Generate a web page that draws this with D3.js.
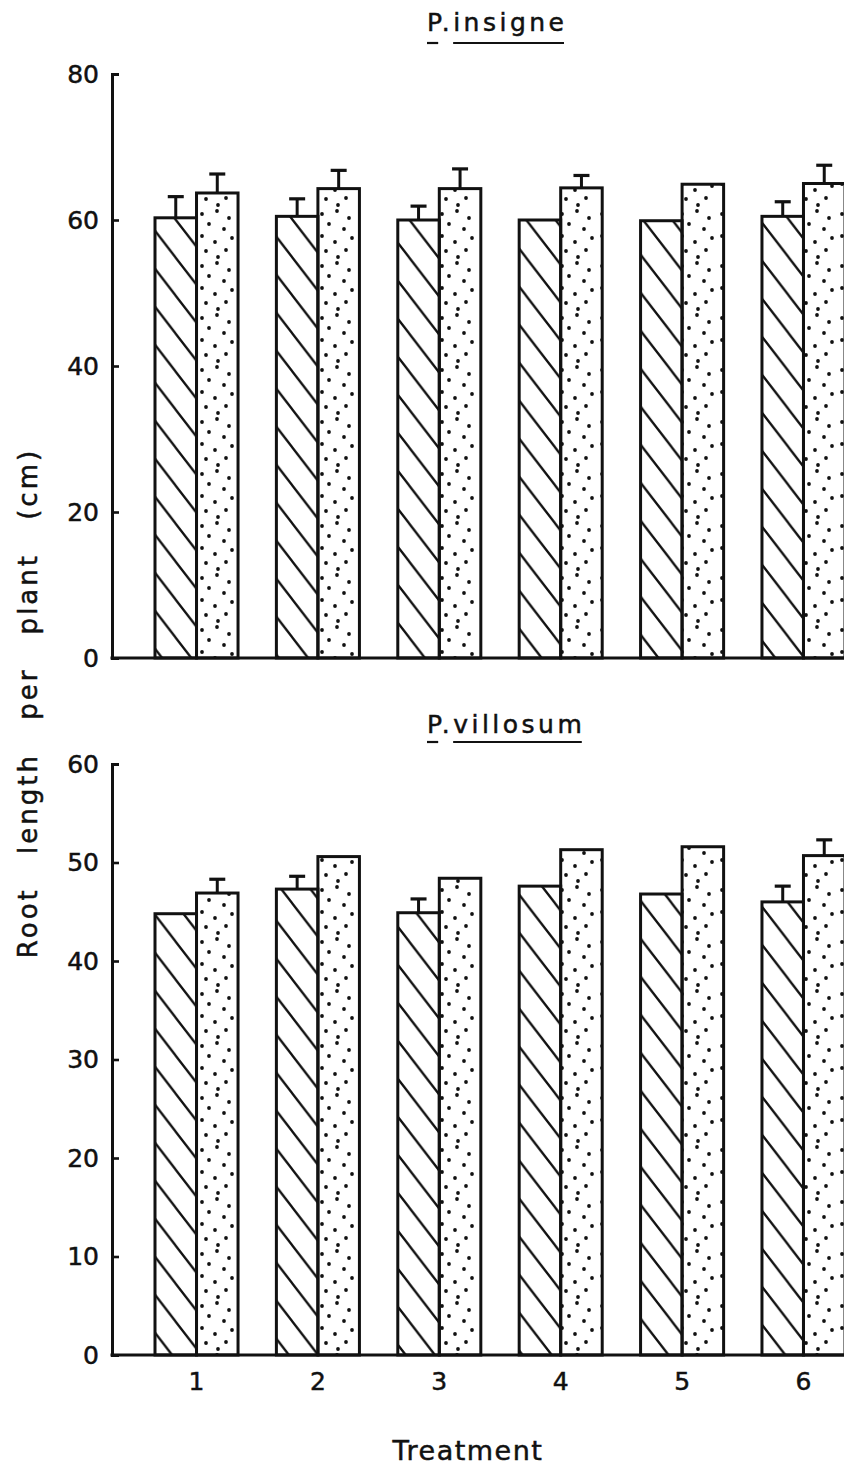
<!DOCTYPE html>
<html>
<head>
<meta charset="utf-8">
<script src="https://cdn.jsdelivr.net/npm/d3@7"></script>
<style>
  body { margin: 0; background: #fff; }
  text { font-family: "DejaVu Sans", sans-serif; fill: #111; stroke: #111; stroke-width: 0.5; }
</style>
</head>
<body>
<svg id="chart" width="844" height="1470"></svg>
<script>
//DATA////////////////////////////////////
var treatments = ["1", "2", "3", "4", "5", "6"];
var series = ["hatched", "dotted"];
// P. insigne
var insigneHatched = [60.3, 60.5, 60.0, 60.0, 59.9, 60.5];
var insigneHatchedErr = [2.9, 2.4, 1.9, 0, 0, 2.0];
var insigneDotted = [63.7, 64.3, 64.3, 64.4, 64.9, 65.0];
var insigneDottedErr = [2.6, 2.5, 2.7, 1.7, 0, 2.5];
var insigneTicks = [0, 20, 40, 60, 80];
// P. villosum
var villosumHatched = [44.8, 47.3, 44.9, 47.6, 46.8, 46.0];
var villosumHatchedErr = [0, 1.3, 1.4, 0, 0, 1.6];
var villosumDotted = [46.9, 50.6, 48.4, 51.3, 51.6, 50.7];
var villosumDottedErr = [1.4, 0, 0, 0, 0, 1.6];
var villosumTicks = [0, 10, 20, 30, 40, 50, 60];

var width = 844,
  axisX = 112,
  ink = "#111";

var svg = d3.select("#chart");
var defs = svg.append("defs");

//PATTERNS///////////////////////////////
var hw = 29.2, hh = 38;
defs
  .append("pattern")
  .attr("id", "hatch")
  .attr("patternUnits", "userSpaceOnUse")
  .attr("width", hw)
  .attr("height", hh)
  .attr("y", -9)
  .append("path")
  .attr("d", "M" + -hw + "," + -hh + "L" + 2 * hw + "," + 2 * hh +
    "M" + -hw + ",0L" + hw + "," + 2 * hh +
    "M0," + -hh + "L" + 2 * hw + "," + hh)
  .attr("stroke", ink)
  .attr("stroke-width", 2.3)
  .attr("fill", "none");

var dotPat = defs
  .append("pattern")
  .attr("id", "dots")
  .attr("patternUnits", "userSpaceOnUse")
  .attr("width", 40)
  .attr("height", 52)
  .attr("x", 197);
var dotXY = [[5, 6], [20, 3], [32, 10], [12, 16], [27, 21], [5, 28], [35, 30],
  [18, 34], [9, 43], [29, 42], [21, 49]];
dotPat.selectAll("circle").data(dotXY).join("circle")
  .attr("cx", d => d[0]).attr("cy", d => d[1]).attr("r", 1.9).attr("fill", ink);

//SCALES//////////////////////////////////
var x0 = d3.scaleBand().domain(treatments).range([155, 845]).paddingInner(0.316).paddingOuter(0);
var x1 = d3.scaleBand().domain(series).range([0, x0.bandwidth()]);

function panel(opt) {
  var y = d3.scaleLinear().domain(opt.domain).range(opt.range);
  var g = svg.append("g");

  var rows = [];
  treatments.forEach(function (t, i) {
    rows.push({ t: t, s: "hatched", v: opt.hatched[i], e: opt.hatchedErr[i] });
    rows.push({ t: t, s: "dotted", v: opt.dotted[i], e: opt.dottedErr[i] });
  });

  // error bars (upper only)
  var eb = g.selectAll(".err").data(rows.filter(d => d.e > 0)).join("g");
  eb.append("line")
    .attr("x1", d => x0(d.t) + x1(d.s) + x1.bandwidth() / 2)
    .attr("x2", d => x0(d.t) + x1(d.s) + x1.bandwidth() / 2)
    .attr("y1", d => y(d.v))
    .attr("y2", d => y(d.v + d.e))
    .attr("stroke", ink).attr("stroke-width", 3);
  eb.append("line")
    .attr("x1", d => x0(d.t) + x1(d.s) + x1.bandwidth() / 2 - 8)
    .attr("x2", d => x0(d.t) + x1(d.s) + x1.bandwidth() / 2 + 8)
    .attr("y1", d => y(d.v + d.e))
    .attr("y2", d => y(d.v + d.e))
    .attr("stroke", ink).attr("stroke-width", 3.2);

  // bars
  g.selectAll(".bar").data(rows).join("rect")
    .attr("x", d => x0(d.t) + x1(d.s))
    .attr("y", d => y(d.v))
    .attr("width", x1.bandwidth())
    .attr("height", d => y(0) - y(d.v))
    .attr("fill", d => d.s === "hatched" ? "url(#hatch)" : "url(#dots)")
    .attr("stroke", ink)
    .attr("stroke-width", 3);

  // y axis
  var ax = g.append("g")
    .attr("transform", "translate(" + axisX + ",0)")
    .call(d3.axisLeft(y).tickValues(opt.ticks).tickSize(-7).tickSizeOuter(-7).tickPadding(13));
  ax.select(".domain").attr("stroke", ink).attr("stroke-width", 3);
  ax.selectAll(".tick line").attr("stroke", ink).attr("stroke-width", 2.6);
  ax.selectAll(".tick text").attr("font-size", 25).attr("fill", ink)
    .style("font-family", "DejaVu Sans");

  // baseline
  g.append("line")
    .attr("x1", axisX - 1.5).attr("x2", width)
    .attr("y1", y(0)).attr("y2", y(0))
    .attr("stroke", ink).attr("stroke-width", 3);

  // title, with separate underlines under "P" and the species word
  var title = g.append("text")
    .attr("x", 427).attr("y", opt.titleY)
    .attr("font-size", 25)
    .attr("letter-spacing", 3.5);
  title.append("tspan").text("P");
  title.append("tspan").text(".");
  title.append("tspan").text(opt.name);
  var node = title.node();
  var n = opt.name.length;
  var pW = node.getSubStringLength(0, 1);
  var startW = node.getSubStringLength(0, 2);
  var nameW = node.getSubStringLength(2, n);
  [[0, pW - 3.5], [startW, startW + nameW - 3.5]].forEach(function (s) {
    g.append("line")
      .attr("x1", 427 + s[0]).attr("x2", 427 + s[1])
      .attr("y1", opt.titleY + opt.ulGap).attr("y2", opt.titleY + opt.ulGap)
      .attr("stroke", ink).attr("stroke-width", 2.2);
  });

  return y;
}

panel({
  name: "insigne",
  domain: [0, 80], range: [658, 74],
  hatched: insigneHatched, hatchedErr: insigneHatchedErr,
  dotted: insigneDotted, dottedErr: insigneDottedErr,
  ticks: insigneTicks, titleY: 31, ulGap: 12
});

var yB = panel({
  name: "villosum",
  domain: [0, 60], range: [1355, 764],
  hatched: villosumHatched, hatchedErr: villosumHatchedErr,
  dotted: villosumDotted, dottedErr: villosumDottedErr,
  ticks: villosumTicks, titleY: 733, ulGap: 9
});

// treatment labels
var xa = svg.append("g")
  .attr("transform", "translate(0," + yB(0) + ")")
  .call(d3.axisBottom(x0).tickSize(0).tickPadding(17));
xa.select(".domain").remove();
xa.selectAll(".tick text").attr("font-size", 25).attr("fill", ink)
  .style("font-family", "DejaVu Sans");

// axis titles
svg.append("text")
  .attr("x", 468).attr("y", 1460)
  .attr("text-anchor", "middle")
  .attr("font-size", 27)
  .attr("letter-spacing", 1.5)
  .text("Treatment");

svg.append("text")
  .attr("transform", "translate(37,703) rotate(-90)")
  .attr("text-anchor", "middle")
  .attr("font-size", 26)
  .attr("letter-spacing", 3)
  .attr("word-spacing", 22)
  .text("Root length per plant (cm)");
</script>
</body>
</html>
